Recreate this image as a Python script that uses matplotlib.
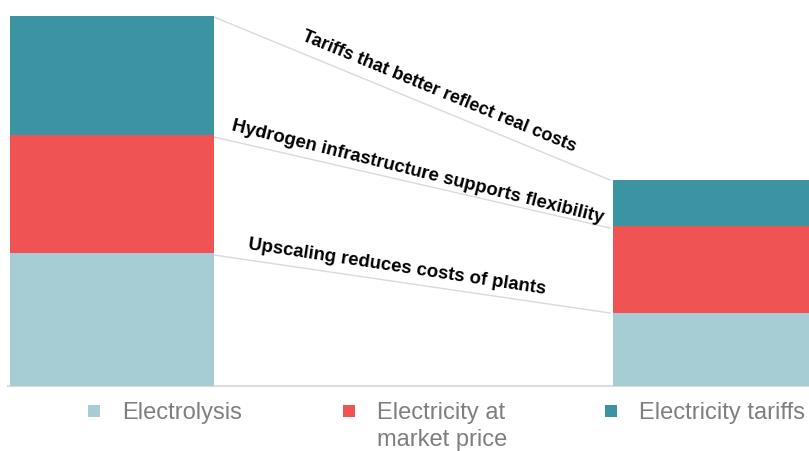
import numpy as np
from matplotlib import pyplot as plt

plt.rcParams['font.family'] = ['Liberation Sans', 'DejaVu Sans']

# cost components (relative units), today vs future
components = ['Electrolysis', 'Electricity at\nmarket price', 'Electricity tariffs']
colors = ['#a6cdd4', '#ef5353', '#3c93a2']
left_vals = [133, 118, 119]
right_vals = [73, 87, 46]
drivers = ['Upscaling reduces costs of plants',
           'Hydrogen infrastructure supports flexibility',
           'Tariffs that better reflect real costs']

fig = plt.figure(figsize=(8.09, 4.51), dpi=100)
ax = fig.add_axes([0, 0, 1, 1])
ax.set_xlim(0, 809)
ax.set_ylim(-65, 386)
ax.axis('off')

lx, lw = 10, 204
rx, rw = 613, 196

lb = 0
rb = 0
for i in range(3):
    ax.bar(lx, left_vals[i], lw, bottom=lb, color=colors[i], align='edge', zorder=2)
    ax.bar(rx, right_vals[i], rw, bottom=rb, color=colors[i], align='edge', zorder=2)
    lb += left_vals[i]
    rb += right_vals[i]

ax.axhline(0, color='#dcdcdc', lw=1.5, xmin=8/809, zorder=1)

# connector lines between the tops of each segment
lc = np.cumsum(left_vals)
rc = np.cumsum(right_vals)
y_left = [lc[0] - 2, lc[1] - 2, lc[2] - 1]
y_right = [rc[0], rc[1] - 2, rc[2]]
for yl, yr in zip(y_left, y_right):
    ax.plot([lx + lw, rx - 3], [yl, yr], color='#dadada', lw=1.0, zorder=1)

# rotated driver labels
text_pos = [(248, 137), (231, 256), (301, 346)]
text_ang = [-8.6, -14.0, -22.3]
text_size = [13.4, 13.4, 13]
for t, (x, y), a, fs in zip(drivers, text_pos, text_ang, text_size):
    ax.text(x, y, t, rotation=a, rotation_mode='anchor', ha='left', va='baseline',
            fontsize=fs, fontweight='bold', color='black')

# legend, drawn by hand so the two-line label hangs from the top
leg_x = [94, 349, 611]
for c, lab, x in zip(colors, components, leg_x):
    ax.scatter([x], [-25], marker='s', s=85, color=c, edgecolors='none', clip_on=False)
    ax.text(x + 28, -16, lab, ha='left', va='top', fontsize=17, color='#7f7f7f',
            linespacing=1.28)

plt.savefig('out.png', dpi=100)
